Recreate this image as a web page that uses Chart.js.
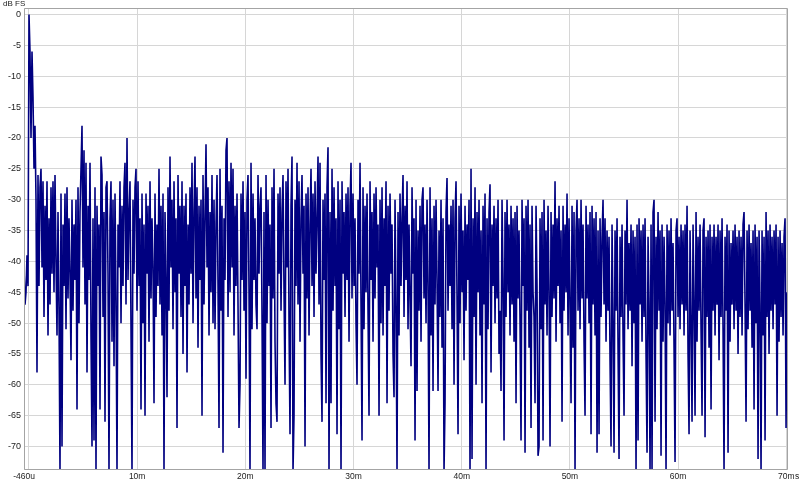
<!DOCTYPE html>
<html>
<head>
<meta charset="utf-8">
<script src="https://cdn.jsdelivr.net/npm/chart.js@4/dist/chart.umd.min.js"></script>
<style>
html,body{margin:0;padding:0;background:#fff;}
#wrap{width:800px;height:483px;position:relative;}
</style>
</head>
<body>
<div id="wrap"><canvas id="c"></canvas></div>
<script>
// Impulse response, dB FS, one sample per time step (column top / bottom)
const SAMPLE_START_MS = -0.46;
const SAMPLE_STEP_MS = 0.09244;

const segA = [
-41,-47,-45,-39,-44,0,-6,-20,-6,-13.5,
-25,-18,-30,-58,-26,-44,-28,-25,-41,-27,
-49,-31,-43,-27,-52,-33,-47,-28,-42,-27,
-45,-26,-40,-52,-32,-48,-74,-29,-70,-34,
-44,-29,-51,-28,-46,-33,-42,-56,-30,-48,
-34,-43,-30,-64,-28,-50,-32,-25,-18,-41,
-22,-47,-24,-58,-31,-43,-24,-52,-70,-33,
-69,-28,-74,-31,-44,-34,-64,-23,-26,-49,
-32,-66,-28,-27,-42,-74,-33,-27,-53,-30,
-57,-29,-46,-74,-34,-41,-27,-50,-31,-44,
-28,-24,-47,-20,-43,-32,-27,-51,-74,-30
];
const segB = [
-42,-28,-25,-48,-27,-44,-33,-64,-29,-50,
-34,-65,-29,-42,-31,-53,-27,-46,-33,-41,
-63,-29,-49,-34,-44,-25,-47,-31,-52,-29,
-74,-32,-43,-62,-28,-48,-23,-41,-30,-51,
-27,-45,-33,-67,-26,-42,-31,-49,-27,-55,
-31,-44,-29,-58,-34,-47,-28,-42,-24,-50,
-32,-23,-46,-28,-54,-31,-43,-30,-65,-26,
-47,-33,-21,-41,-28,-52,-32,-45,-26,-50,
-30,-51,-34,-26,-44,-67,-25,-48,-31,-71,
-33,-43,-22,-20,-49,-27,-45,-24,-41,-25,
-52,-31,-44,-29,-47,-67,-60,-29,-43,-27
];
const segC = [
-48,-32,-59,-30,-26,-45,-74,-24,-51,-29,
-43,-33,-47,-51,-26,-42,-31,-28,-49,-74,
-32,-74,-26,-50,-30,-44,-34,-67,-28,-46,
-25,-53,-63,-66,-29,-42,-28,-48,-32,-26,
-45,-60,-27,-41,-25,-50,-68,-31,-23,-74,
-65,-30,-44,-24,-47,-27,-53,-33,-26,-42,
-31,-70,-29,-46,-28,-52,-34,-25,-44,-29,
-49,-27,-42,-33,-23,-47,-24,-55,-66,-30,
-43,-29,-63,-28,-21.5,-74,-32,-63,-25,-48,
-28,-44,-33,-68,-27,-51,-30,-74,-27,-42,
-32,-49,-29,-43,-28,-53,-31,-24,-46,-29
];
const segD = [
-44,-33,-50,-60,-30,-42,-24,-47,-69,-28,
-51,-31,-45,-29,-48,-65,-27,-43,-32,-53,
-29,-46,-28,-41,-34,-65,-30,-50,-28,-52,
-33,-44,-27,-63,-31,-48,-29,-42,-34,-55,
-62,-30,-47,-74,-32,-52,-29,-44,-33,-26,
-49,-31,-43,-27,-51,-34,-46,-57,-28,-42,
-33,-69,-30,-61,-35,-48,-31,-53,-30,-28,
-46,-34,-50,-30,-44,-74,-28,-52,-33,-61,
-31,-47,-30,-43,-61,-35,-49,-30,-54,-33,
-74,-63,-32,-26.5,-48,-34,-44,-31,-51,-30,
-60,-33,-27,-46,-68,-31,-50,-29,-45,-35
];
const segE = [
-56,-31,-48,-34,-43,-30,-74,-25,-72,-33,
-49,-28,-60,-32,-45,-30,-52,-35,-63,-31,
-47,-29,-74,-33,-51,-32,-27.5,-58,-34,-44,
-31,-50,-33,-46,-30,-55,-48,-61,-30,-43,
-69,-32,-49,-30,-45,-34,-52,-31,-47,-33,
-53,-32,-63,-31,-46,-35,-50,-69,-30,-44,
-33,-71,-31,-48,-30,-54,-34,-67,-31,-45,
-49,-63,-31,-44,-71.5,-70,-33,-51,-32,-69,
-30,-47,-35,-52,-31,-45,-70,-32,-49,-34,
-46,-27,-53,-33,-44,-31,-50,-35,-66,-31,
-48,-34,-45,-29,-52,-33,-47,-63,-31,-54
];
const segF = [
-32,-74,-35,-30,-48,-33,-51,-30,-46,-34,
-53,-65,-31,-46,-34,-50,-32,-68,-31,-47,
-33,-52,-32,-71,-35,-68,-33,-49,-36,-30,
-47,-33,-53,-35,-48,-36,-56,-70,-34,-50,
-71,-35,-48,-33,-54,-72,-36,-49,-34,-52,
-65,-35,-47,-30,-51,-37,-48,-34,-57,-35,
-50,-36,-74,-34,-69,-33,-47,-35,-53,-34,
-49,-33,-55,-71,-36,-47,-74,-34,-74,-32,
-30,-66,-36,-51,-32,-48,-35,-71.5,-34,-53,
-36,-47,-74,-34,-50,-35,-52,-33,-48,-37,
-54,-72.5,-35,-33,-49,-36,-51,-34,-47,-35
];
const segG = [
-52,-34,-48,-31,-55,-68,-35,-50,-66,-34,
-47,-65,-32,-53,-36,-48,-34,-51,-65,-35,
-33,-68.5,-36,-49,-35,-54,-34,-64,-36,-48,
-34,-52,-36,-47,-34,-56,-35,-49,-33,-51,
-74,-36,-48,-34,-71,-35,-53,-37,-47,-35,
-51,-34,-48,-36,-55,-35,-49,-36,-52,-34,
-32,-47,-66,-35,-51,-34,-48,-37,-54,-35,
-64,-34,-50,-36,-72,-35,-47,-74,-35,-52,
-36,-69,-32,-49,-35,-55,-34,-48,-36,-51,
-35,-47,-34,-65,-36,-53,-35,-49,-37,-52,-36,-33,-67,-45
];

const yTickValues = [0,-5,-10,-15,-20,-25,-30,-35,-40,-45,-50,-55,-60,-65,-70];
const xTickValues = [-0.46,0,10,20,30,40,50,60,70];
const xTickLabels = ['-460u','','10m','20m','30m','40m','50m','60m','70m'];
const X_MIN = -0.46, X_MAX = 70.16;
const Y_MIN = -73.8, Y_MAX = 1;

const dbValues = [].concat(segA, segB, segC, segD, segE, segF, segG);
const points = dbValues.map((v, i) => ({ x: SAMPLE_START_MS + i * SAMPLE_STEP_MS, y: v }));

const FONT = 'Liberation Sans, Arial, sans-serif';

const framePlugin = {
  id: 'frame',
  afterDatasetsDraw(chart) {
    const { ctx, chartArea: a } = chart;
    ctx.save();
    ctx.strokeStyle = '#a4a4a4';
    ctx.lineWidth = 1;
    const l = Math.round(a.left) + 0.5, t = Math.round(a.top) + 0.5;
    const r = Math.round(a.right) - 0.5, b = Math.round(a.bottom) - 0.5;
    ctx.beginPath();
    ctx.moveTo(l, t); ctx.lineTo(r, t); ctx.lineTo(r, b); ctx.lineTo(l, b); ctx.closePath();
    ctx.stroke();
    ctx.fillStyle = '#222';
    ctx.font = '8px ' + FONT;
    ctx.textBaseline = 'alphabetic';
    ctx.textAlign = 'left';
    ctx.fillText('dB FS', 3, 6);
    ctx.font = '8.5px ' + FONT;
    ctx.textBaseline = 'top';
    ctx.fillText('s', 795, 472);
    ctx.restore();
  }
};

new Chart(document.getElementById('c'), {
  type: 'line',
  data: {
    datasets: [{
      data: points,
      borderColor: '#000080',
      borderWidth: 1.6,
      borderJoinStyle: 'bevel',
      pointRadius: 0,
      tension: 0,
      fill: false
    }]
  },
  options: {
    responsive: true,
    maintainAspectRatio: false,
    animation: false,
    devicePixelRatio: 1,
    layout: { padding: { left: 0, right: 12, top: 7, bottom: 0 } },
    plugins: { legend: { display: false }, tooltip: { enabled: false } },
    scales: {
      x: {
        type: 'linear',
        min: X_MIN,
        max: X_MAX,
        afterBuildTicks: s => { s.ticks = xTickValues.map(v => ({ value: v })); },
        afterFit: s => { s.height = 13; },
        ticks: {
          autoSkip: false, maxRotation: 0, minRotation: 0, padding: 2,
          color: '#222', font: { family: FONT, size: 8.5 },
          callback: (v, i) => xTickLabels[i]
        },
        grid: { color: '#d6d6d6', lineWidth: 1, drawTicks: false },
        border: { display: false }
      },
      y: {
        type: 'linear',
        min: Y_MIN,
        max: Y_MAX,
        afterBuildTicks: s => { s.ticks = yTickValues.map(v => ({ value: v })); },
        afterFit: s => { s.width = 24; },
        ticks: {
          padding: 3, color: '#222', font: { family: FONT, size: 9 },
          callback: v => String(v)
        },
        grid: { color: '#d6d6d6', lineWidth: 1, drawTicks: false },
        border: { display: false }
      }
    }
  },
  plugins: [framePlugin]
});
</script>
</body>
</html>
